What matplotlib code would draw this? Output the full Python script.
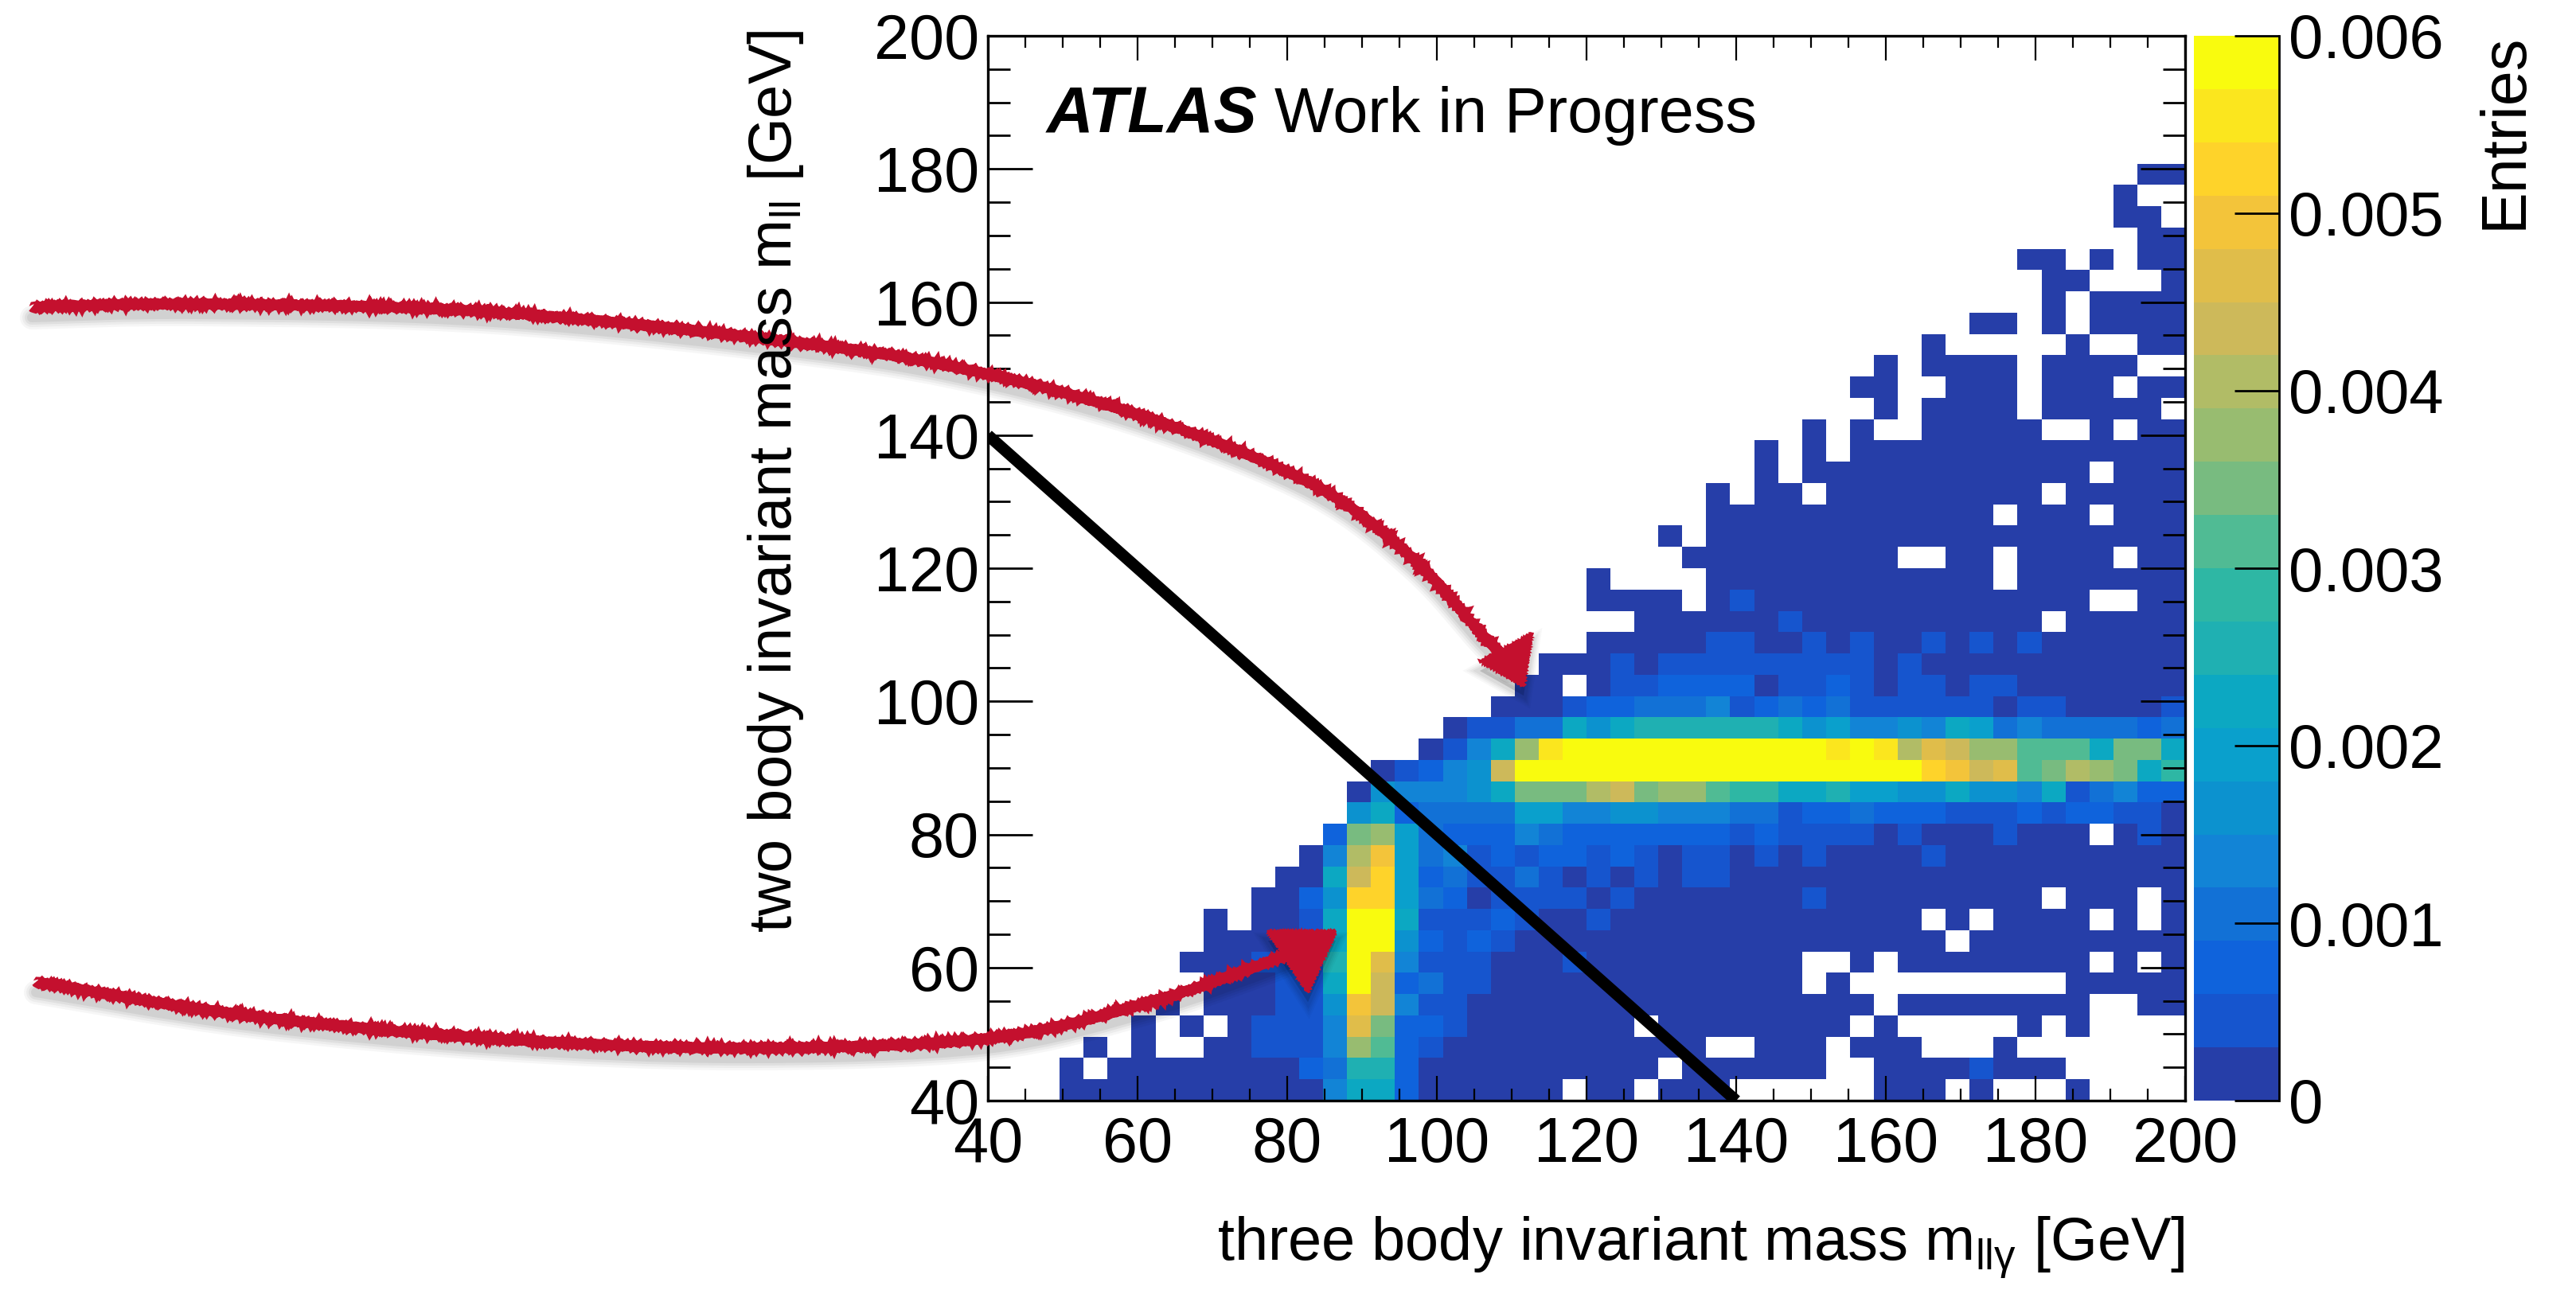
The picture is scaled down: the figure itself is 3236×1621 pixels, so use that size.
import numpy as np
import matplotlib
matplotlib.use("Agg")
import matplotlib.pyplot as plt
from matplotlib.colors import ListedColormap, BoundaryNorm
from matplotlib.patches import Polygon
from matplotlib.path import Path
from matplotlib.patches import PathPatch
from matplotlib.ticker import MultipleLocator

plt.rcParams["font.family"] = ["Liberation Sans", "DejaVu Sans"]
plt.rcParams["mathtext.fontset"] = "custom"
plt.rcParams["mathtext.rm"] = "Liberation Sans"
plt.rcParams["mathtext.it"] = "Liberation Sans:italic"

# one string per mll bin (bottom to top), one character per mllg bin
# "." empty bin, otherwise palette level 0-9,a-j
grid_rows = [
    "...000000000004772000000.00.000......000.0...0....",
    "...0.0000000023882" "0000000000.000000..00001000.....",
    "....0.0..00111" "4ca21" "00000000000..000.000...0.......",
    "......0.0.0111" "4fb221" "0000000.00000000.0.....0.0....",
    ".......0.00011" "5ge411" "00000000000000000.00000000..00",
    ".........00011" "7je2311" "0000000000000.0.........00000",
    "........00011" "18jf4111" "0001000000000..0.00000000.0.0",
    ".........000" "017jj52121" "000000000000000000.000000000",
    ".........0.00" "17jj71112" "1001" "0000000000000.0.0000.0.0",
    "...........00" "25hh632" "0" "1" "111" "0" "1" "0000000" "1" "000000000.000.0",
    "............00" "7eh623" "11" "3" "1" "0" "1" "0" "1" "0" "11" "0000000000000000000",
    ".............0" "4dg634" "1" "2" "1" "22" "1" "2" "1" "0" "11" "0" "1" "0" "1" "0000" "1" "0000000000",
    "..............2bc63" "222" "43" "2222222" "1" "2" "1111" "0" "1" "000" "1" "000.010",
    "...............572" "3333" "66" "44" "55" "444" "33" "1" "22" "3" "222" "111" "2" "1" "22" "11" "0",
    "...............05" "444" "57" "bbb" "deb" "cc" "a" "99" "77" "8" "66" "55" "7" "55" "47" "134" "22",
    "................0124" "5e" "jjjjjjjjjjjjjjjjj" "hgefabdcb79",
    "..................0147ci" "jjjjjjjjjjj" "ijidfecc" "aaa7bb7",
    "...................0" "11" "33" "7" "5" "7" "888888" "7" "5" "6" "44" "54" "76" "34" "3333" "23",
    ".....................000" "1" "22" "33" "3" "4" "1" "2" "3" "2" "3" "111111" "0" "11" "0000" "1",
    "......................00.0" "11" "2222" "0" "11" "2" "1" "0" "11" "0" "11" "0000000",
    ".......................000" "1" "0" "111111111" "0" "1" "00000000000",
    ".........................00000" "11" "00" "1" "0" "1" "00" "1" "0" "1" "0" "1" "000000",
    "...........................000000" "1" "0000000000.00000",
    ".........................0000.01" "00000000000000" "..00",
    ".........................0....000000000000.0000000",
    ".............................000000000..00.0000.00",
    "............................0.00000000000000000000",
    "..............................000000000000.000.000",
    "..............................0.00.000000000.00000",
    "................................0.000000000000.000",
    "................................0.0.00000000000000",
    "..................................0.0..00000..0.00",
    ".....................................0.0000.00000.",
    "....................................00..000.000.00",
    ".....................................0.0000.0000..",
    ".......................................0.....0..00",
    ".........................................00.0.0000",
    "............................................0.0000",
    "............................................00...0",
    "...........................................00.0.00",
    "................................................00",
    "...............................................00.",
    "...............................................0..",
    "................................................00",
    "..................................................",
    "..................................................",
    "..................................................",
    "..................................................",
    "..................................................",
    "..................................................",
]

level_chars = "0123456789abcdefghij"
level_width = 0.0003
bin_edges = np.linspace(40, 200, 51)

palette = ["#263ea8", "#1655ce", "#0f63dc", "#1271d6", "#1284d6",
           "#0c92cf", "#0aa0cc", "#0ca8c2", "#1fb0b2", "#2eb7a4",
           "#50bb94", "#78bb80", "#98bc70", "#b1bc66", "#cdb95a",
           "#e0bd4a", "#f3c43a", "#fed32a", "#fbe61e", "#f9fb0e"]

# diagonal mll + mllg cut line
cut_x = [40, 140]
cut_y = [140, 40]

# hand drawn arrows, in pixels of the full picture
arrow1_x = [40, 250, 620, 1030, 1240, 1445, 1650, 1775, 1860, 1895]
arrow1_y = [386, 382, 392, 434, 470, 526, 609, 702, 795, 830]
arrow1_head = [(1924, 796), (1859, 831), (1914, 862)]
arrow2_x = [45, 310, 620, 930, 1240, 1445, 1590, 1625]
arrow2_y = [1234, 1276, 1305, 1317, 1305, 1259, 1210, 1195]
arrow2_head = [(1593, 1170), (1678, 1170), (1643, 1247)]

W, H = 3237, 1621
values = np.full((50, 50), np.nan)
for j, row in enumerate(grid_rows):
    assert len(row) == 50, (j, len(row))
    for i, c in enumerate(row):
        if c != ".":
            values[j, i] = (level_chars.index(c) + 0.5) * level_width

fig = plt.figure(figsize=(W / 100, H / 100), dpi=100, facecolor="white")
ax = fig.add_axes([1241 / W, 1 - 1383 / H, (2745 - 1241) / W, (1383 - 45) / H])
cax = fig.add_axes([2756 / W, 1 - 1383 / H, (2863 - 2756) / W, (1383 - 45) / H])

cmap = ListedColormap(palette)
cmap.set_bad((1, 1, 1, 0))
norm = BoundaryNorm(np.arange(21) * level_width, 20)
mesh = ax.pcolormesh(bin_edges, bin_edges, np.ma.masked_invalid(values),
                     cmap=cmap, norm=norm, linewidth=0, antialiased=False)
ax.plot(cut_x, cut_y, color="black", lw=10.5, solid_capstyle="butt", zorder=3)
ax.set_xlim(40, 200)
ax.set_ylim(40, 200)

ax.xaxis.set_major_locator(MultipleLocator(20))
ax.xaxis.set_minor_locator(MultipleLocator(5))
ax.yaxis.set_major_locator(MultipleLocator(20))
ax.yaxis.set_minor_locator(MultipleLocator(5))
ax.tick_params(axis="x", which="major", direction="in", top=True, length=22, width=1.6,
               labelsize=57, pad=14)
ax.tick_params(axis="x", which="minor", direction="in", top=True, length=11, width=1.6)
ax.tick_params(axis="y", which="major", direction="in", right=True, length=40, width=2.0,
               labelsize=57, pad=8)
ax.tick_params(axis="y", which="minor", direction="in", right=True, length=20, width=2.0)
for s in ax.spines.values():
    s.set_linewidth(2.4)
ax.set_axisbelow(False)

cb = fig.colorbar(mesh, cax=cax, ticks=np.arange(7) * 0.001, spacing="proportional")
cb.ax.set_yticklabels(["0", "0.001", "0.002", "0.003", "0.004", "0.005", "0.006"])
cb.ax.tick_params(direction="in", right=True, length=40, width=2.0, labelsize=56, pad=9)
cb.ax.minorticks_off()
cb.outline.set_visible(False)
cb.ax.plot([1, 1], [0, 1], transform=cb.ax.transAxes, color="black", lw=2.0, clip_on=False)


def catmull(xs, ys):
    # smooth curve through the read points, as cubic bezier pieces
    p = np.column_stack([xs, ys]).astype(float)
    verts = [p[0]]
    codes = [Path.MOVETO]
    for k in range(len(p) - 1):
        p0 = p[max(k - 1, 0)]
        p3 = p[min(k + 2, len(p) - 1)]
        verts += [p[k] + (p[k + 1] - p0) / 6, p[k + 1] - (p3 - p[k]) / 6, p[k + 1]]
        codes += [Path.CURVE4] * 3
    return np.array(verts), codes


def to_fig(pts):
    pts = np.asarray(pts, float)
    return np.column_stack([pts[:, 0] / W, 1 - pts[:, 1] / H])


def brush(xs, ys, head, z=5):
    verts, codes = catmull(xs, ys)
    head = np.array(head, float)
    # soft shadow, a few wide see-through strokes below the stroke
    for lw, a in [(30, 0.035), (24, 0.04), (18, 0.05), (12, 0.06)]:
        shadow = Path(to_fig(verts + [0, 13]), codes)
        fig.add_artist(PathPatch(shadow, fc="none", ec="black", lw=lw * 0.72, alpha=a,
                                 zorder=z, capstyle="round", transform=fig.transFigure))
        fig.add_artist(Polygon(to_fig(head + [0, 12]), closed=True, fc="black", ec="black",
                               lw=lw * 0.5, alpha=a * 0.8, zorder=z, transform=fig.transFigure))
    stroke = PathPatch(Path(to_fig(verts), codes), fc="none", ec="#c4102e", lw=8.5, zorder=z + 0.1,
                       capstyle="butt", transform=fig.transFigure)
    stroke.set_sketch_params(scale=1.2, length=4, randomness=2)
    fig.add_artist(stroke)
    tip = Polygon(to_fig(head), closed=True, fc="#c4102e", ec="#c4102e", lw=2, zorder=z + 0.1,
                  transform=fig.transFigure)
    tip.set_sketch_params(scale=1.5, length=4, randomness=2)
    fig.add_artist(tip)


brush(arrow1_x, arrow1_y, arrow1_head)
brush(arrow2_x, arrow2_y, arrow2_head)

# labels placed on the figure so they sit on top of the arrows
fig.text(2745 / W, 1 - 1567 / H, "three body invariant mass m$_{\\mathrm{llγ}}$ [GeV]",
         ha="right", va="center", fontsize=54.5, zorder=8)
fig.text(975 / W, 1 - 38 / H, "two body invariant mass m$_{\\mathrm{ll}}$ [GeV]",
         rotation=90, ha="center", va="top", fontsize=54.5, zorder=8)
fig.text(3147 / W, 1 - 42 / H, "Entries", rotation=90, ha="center", va="top", fontsize=57, zorder=8)
fig.text(1315 / W, 1 - 166 / H, "ATLAS", fontweight="bold", fontstyle="italic", fontsize=58.5,
         ha="left", va="baseline", zorder=8)
fig.text(1601 / W, 1 - 166 / H, "Work in Progress", fontsize=57, ha="left", va="baseline", zorder=8)

fig.savefig("out.png", dpi=100, facecolor="white")
